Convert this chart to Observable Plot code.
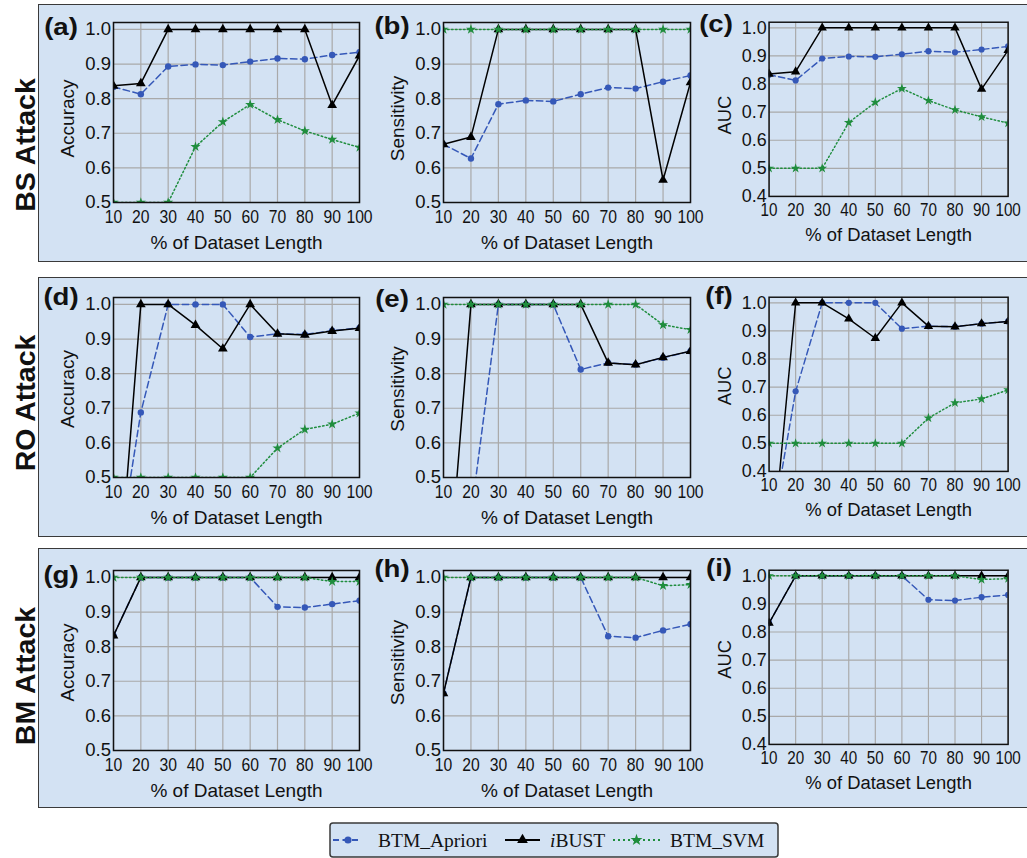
<!DOCTYPE html>
<html><head><meta charset="utf-8">
<script src="https://cdn.jsdelivr.net/npm/d3@7"></script>
<script src="https://cdn.jsdelivr.net/npm/@observablehq/plot@0.6"></script>
<style>
body{margin:0;background:#fff;}
#root{position:relative;width:1027px;height:858px;overflow:hidden;background:#fff;font-family:"Liberation Sans",Arial,sans-serif;}
.rowbox{position:absolute;left:38px;width:1010px;background:#d3e2f3;border:1.5px solid #3a3a3a;box-sizing:border-box;}
.rowlab{position:absolute;font-weight:bold;font-size:28.5px;white-space:nowrap;color:#111;transform:translate(-50%,-50%) rotate(-90deg);}
.plab{position:absolute;font-weight:bold;font-size:23px;white-space:nowrap;color:#111;transform:translate(-50%,-50%) scaleX(1.2);}
.panel{position:absolute;}
.panel svg{overflow:visible;}
.panel g[aria-label="x-axis tick label"]{font-size:18.5px;}
.panel g[aria-label="x-axis label"], .panel g[aria-label="y-axis label"]{font-size:19px;}
</style>
</head><body>
<div id="root"></div>
<script>
// ---------- data ----------
const xPct = [10, 20, 30, 40, 50, 60, 70, 80, 90, 100];
const seriesNames = ["BTM_Apriori", "iBUST", "BTM_SVM"];
const rowNames = ["BS Attack", "RO Attack", "BM Attack"];
const metricNames = ["Accuracy", "Sensitivity", "AUC"];
const panelTags = ["(a)", "(b)", "(c)", "(d)", "(e)", "(f)", "(g)", "(h)", "(i)"];
const ticksAccSen = [0.5, 0.6, 0.7, 0.8, 0.9, 1.0];
const ticksAuc = [0.4, 0.5, 0.6, 0.7, 0.8, 0.9, 1.0];

// (a) BS Accuracy
const bsAccApriori = [0.834, 0.813, 0.893, 0.899, 0.897, 0.907, 0.916, 0.914, 0.926, 0.934];
const bsAccIbust   = [0.837, 0.844, 1, 1, 1, 1, 1, 1, 0.781, 0.924];
const bsAccSvm     = [0.5, 0.5, 0.5, 0.661, 0.733, 0.783, 0.739, 0.707, 0.682, 0.659];
// (b) BS Sensitivity
const bsSenApriori = [0.668, 0.627, 0.784, 0.795, 0.792, 0.813, 0.832, 0.829, 0.849, 0.867];
const bsSenIbust   = [0.668, 0.689, 1, 1, 1, 1, 1, 1, 0.565, 0.847];
const bsSenSvm     = [1, 1, 1, 1, 1, 1, 1, 1, 1, 1];
// (c) BS AUC
const bsAucApriori = [0.833, 0.813, 0.891, 0.898, 0.897, 0.906, 0.917, 0.913, 0.923, 0.934];
const bsAucIbust   = [0.836, 0.844, 1, 1, 1, 1, 1, 1, 0.782, 0.920];
const bsAucSvm     = [0.5, 0.5, 0.5, 0.663, 0.735, 0.784, 0.741, 0.708, 0.683, 0.661];
// (d) RO Accuracy
const roAccApriori = [0.19, 0.688, 1, 1, 1, 0.906, 0.915, 0.913, 0.924, 0.932];
const roAccIbust   = [0.0, 1, 1, 0.940, 0.872, 1, 0.915, 0.912, 0.923, 0.931];
const roAccSvm     = [0.5, 0.5, 0.5, 0.5, 0.5, 0.5, 0.585, 0.639, 0.654, 0.686];
// (e) RO Sensitivity
const roSenApriori = [0.0, 0.39, 1, 1, 1, 0.812, 0.831, 0.826, 0.846, 0.865];
const roSenIbust   = [0.02, 1, 1, 1, 1, 1, 0.831, 0.826, 0.847, 0.865];
const roSenSvm     = [1, 1, 1, 1, 1, 1, 1, 1, 0.941, 0.927];
// (f) RO AUC
const roAucApriori = [0.14, 0.685, 1, 1, 1, 0.908, 0.917, 0.915, 0.926, 0.934];
const roAucIbust   = [0.0, 1, 1, 0.943, 0.874, 1, 0.917, 0.915, 0.926, 0.934];
const roAucSvm     = [0.5, 0.5, 0.5, 0.5, 0.5, 0.5, 0.59, 0.644, 0.658, 0.69];
// (g) BM Accuracy
const bmAccApriori = [0.832, 1, 1, 1, 1, 1, 0.915, 0.913, 0.923, 0.933];
const bmAccIbust   = [0.832, 1, 1, 1, 1, 1, 1, 1, 1, 1];
const bmAccSvm     = [1, 1, 1, 1, 1, 1, 1, 1, 0.988, 0.988];
// (h) BM Sensitivity
const bmSenApriori = [0.665, 1, 1, 1, 1, 1, 0.830, 0.826, 0.847, 0.865];
const bmSenIbust   = [0.665, 1, 1, 1, 1, 1, 1, 1, 1, 1];
const bmSenSvm     = [1, 1, 1, 1, 1, 1, 1, 1, 0.976, 0.979];
// (i) BM AUC
const bmAucApriori = [0.832, 1, 1, 1, 1, 1, 0.915, 0.912, 0.924, 0.932];
const bmAucIbust   = [0.832, 1, 1, 1, 1, 1, 1, 1, 1, 1];
const bmAucSvm     = [1, 1, 1, 1, 1, 1, 1, 1, 0.987, 0.990];

const panelSeries = [
  [bsAccApriori, bsAccIbust, bsAccSvm], [bsSenApriori, bsSenIbust, bsSenSvm], [bsAucApriori, bsAucIbust, bsAucSvm],
  [roAccApriori, roAccIbust, roAccSvm], [roSenApriori, roSenIbust, roSenSvm], [roAucApriori, roAucIbust, roAucSvm],
  [bmAccApriori, bmAccIbust, bmAccSvm], [bmSenApriori, bmSenIbust, bmSenSvm], [bmAucApriori, bmAucIbust, bmAucSvm]
];

// ---------- styling / layout ----------
const BLUE = "#3558b8", BLACK = "#000", GREEN = "#1f8d3d";
const colFrameLeft = [113, 443, 771];
const colFrameWidth = [246, 247, 247];
const rowFrameTop = [21.5, 297, 570];
const FH = 180;
const rowBoxTop = [4, 277, 548];
const rowBoxHeight = [258, 260, 260];
const rowLabelY = [145, 403, 676];
const yLabelShift = [6, 1.5, 2];
const tagPos = [[61, 27], [392, 26], [716, 24], [61, 297], [392, 299], [719, 296], [61, 575], [392, 569], [719, 568]];
const ML = 75, MR = 20, MT = 8, MB = 60;

const root = document.getElementById("root");

rowNames.forEach((name, r) => {
  const box = document.createElement("div");
  box.className = "rowbox";
  box.style.top = rowBoxTop[r] + "px";
  box.style.height = rowBoxHeight[r] + "px";
  root.appendChild(box);
  const lab = document.createElement("div");
  lab.className = "rowlab";
  lab.textContent = name;
  lab.style.left = "25px";
  lab.style.top = rowLabelY[r] + "px";
  root.appendChild(lab);
});

panelSeries.forEach((vals, k) => {
  const r = Math.floor(k / 3), c = k % 3;
  const isAuc = c === 2;
  const yticks = isAuc ? ticksAuc : ticksAccSen;
  const rows = [];
  seriesNames.forEach((s, si) => vals[si].forEach((v, i) => rows.push({x: xPct[i], v, s})));
  const fw = colFrameWidth[c];
  const chart = Plot.plot({
    width: fw + ML + MR,
    height: FH + MT + MB,
    marginLeft: ML, marginRight: MR, marginTop: MT, marginBottom: MB,
    style: {background: "transparent", fontFamily: "'Liberation Sans', Arial, sans-serif", fontSize: "18.5px", color: "#111", overflow: "visible"},
    x: {domain: [10, 100], ticks: xPct, tickSize: 0, tickPadding: 7, label: "% of Dataset Length", labelAnchor: "center", labelOffset: 46, labelArrow: "none"},
    y: {domain: [yticks[0], 1.02], ticks: yticks, tickFormat: d3.format(".1f"), tickSize: 0, tickPadding: 2.5, label: metricNames[c], labelAnchor: "center", labelOffset: 53, labelArrow: "none"},
    marks: [
      Plot.gridX(xPct, {stroke: "#a9a9a9", strokeOpacity: 1, strokeWidth: 1.2}),
      Plot.gridY(yticks, {stroke: "#a9a9a9", strokeOpacity: 1, strokeWidth: 1.2}),
      Plot.line(rows, {filter: d => d.s === seriesNames[0], x: "x", y: "v", stroke: BLUE, strokeWidth: 1.5, strokeDasharray: "6.5,3.5", clip: true}),
      Plot.dot(rows, {filter: d => d.s === seriesNames[0], x: "x", y: "v", r: 3.2, fill: BLUE, stroke: "none", clip: true}),
      Plot.line(rows, {filter: d => d.s === seriesNames[1], x: "x", y: "v", stroke: BLACK, strokeWidth: 1.5, clip: true}),
      Plot.dot(rows, {filter: d => d.s === seriesNames[1], x: "x", y: "v", symbol: "triangle", r: 3.6, fill: BLACK, stroke: "none", clip: true}),
      Plot.line(rows, {filter: d => d.s === seriesNames[2], x: "x", y: "v", stroke: GREEN, strokeWidth: 1.5, strokeDasharray: "1.5,2.5", clip: true}),
      Plot.dot(rows, {filter: d => d.s === seriesNames[2], x: "x", y: "v", symbol: "star", r: 3.2, fill: GREEN, stroke: "none", clip: true}),
      Plot.frame({stroke: "#111", strokeWidth: 1.5})
    ]
  });
  // narrow x tick labels (horizontal compression, as in the reference)
  d3.select(chart).selectAll('g[aria-label="x-axis tick label"] text').each(function () {
    let t = this.getAttribute("transform") || "";
    const xa = this.getAttribute("x");
    if (xa != null) { t += ` translate(${xa},0)`; this.removeAttribute("x"); }
    this.setAttribute("transform", t + " scale(0.85,1)");
  });
  // y label vertical nudge
  d3.select(chart).selectAll('g[aria-label="y-axis label"]').each(function () {
    const t = this.getAttribute("transform") || "";
    this.setAttribute("transform", `translate(0,${yLabelShift[r]}) ` + t);
  });
  const wrap = document.createElement("div");
  wrap.className = "panel";
  wrap.style.left = (colFrameLeft[c] - ML) + "px";
  wrap.style.top = (rowFrameTop[r] - MT) + "px";
  wrap.appendChild(chart);
  root.appendChild(wrap);

  const tag = document.createElement("div");
  tag.className = "plab";
  tag.textContent = panelTags[k];
  tag.style.left = tagPos[k][0] + "px";
  tag.style.top = tagPos[k][1] + "px";
  root.appendChild(tag);
});

// ---------- legend ----------
const LX = 330, LY = 823, LW = 448, LH = 34;
const leg = d3.select(root).append("svg")
  .attr("width", LW + 4).attr("height", LH + 4)
  .style("position", "absolute").style("left", (LX - 2) + "px").style("top", (LY - 2) + "px");
leg.append("rect").attr("x", 2).attr("y", 2).attr("width", LW).attr("height", LH).attr("rx", 3)
  .attr("fill", "#d3e2f3").attr("stroke", "#3a3a3a").attr("stroke-width", 1.5);
const legendItems = [
  {x0: 5, x1: 32, mx: 20, text: "BTM_Apriori", tx: 50, color: BLUE, dash: "6,3.5", sym: d3.symbolCircle, size: 40},
  {x0: 177, x1: 212, mx: 194.5, text: "iBUST", tx: 222, color: BLACK, dash: null, sym: d3.symbolTriangle, size: 50},
  {x0: 285, x1: 332, mx: 308.5, text: "BTM_SVM", tx: 342, color: GREEN, dash: "2,3", sym: d3.symbolStar, size: 45}
];
const cy = 19;
legendItems.forEach((it) => {
  leg.append("line").attr("x1", it.x0).attr("x2", it.x1).attr("y1", cy).attr("y2", cy)
    .attr("stroke", it.color).attr("stroke-width", 2).attr("stroke-dasharray", it.dash);
  leg.append("path").attr("d", d3.symbol(it.sym, it.size)()).attr("transform", `translate(${it.mx},${cy})`)
    .attr("fill", it.color);
  const t = leg.append("text").attr("x", it.tx).attr("y", 25.5)
    .attr("font-family", "'Liberation Serif', 'Times New Roman', serif").attr("font-size", 19.5).attr("fill", "#111");
  if (it.text === "iBUST") {
    t.append("tspan").attr("font-style", "italic").text("i");
    t.append("tspan").text("BUST");
  } else t.text(it.text);
});
</script>
</body></html>
